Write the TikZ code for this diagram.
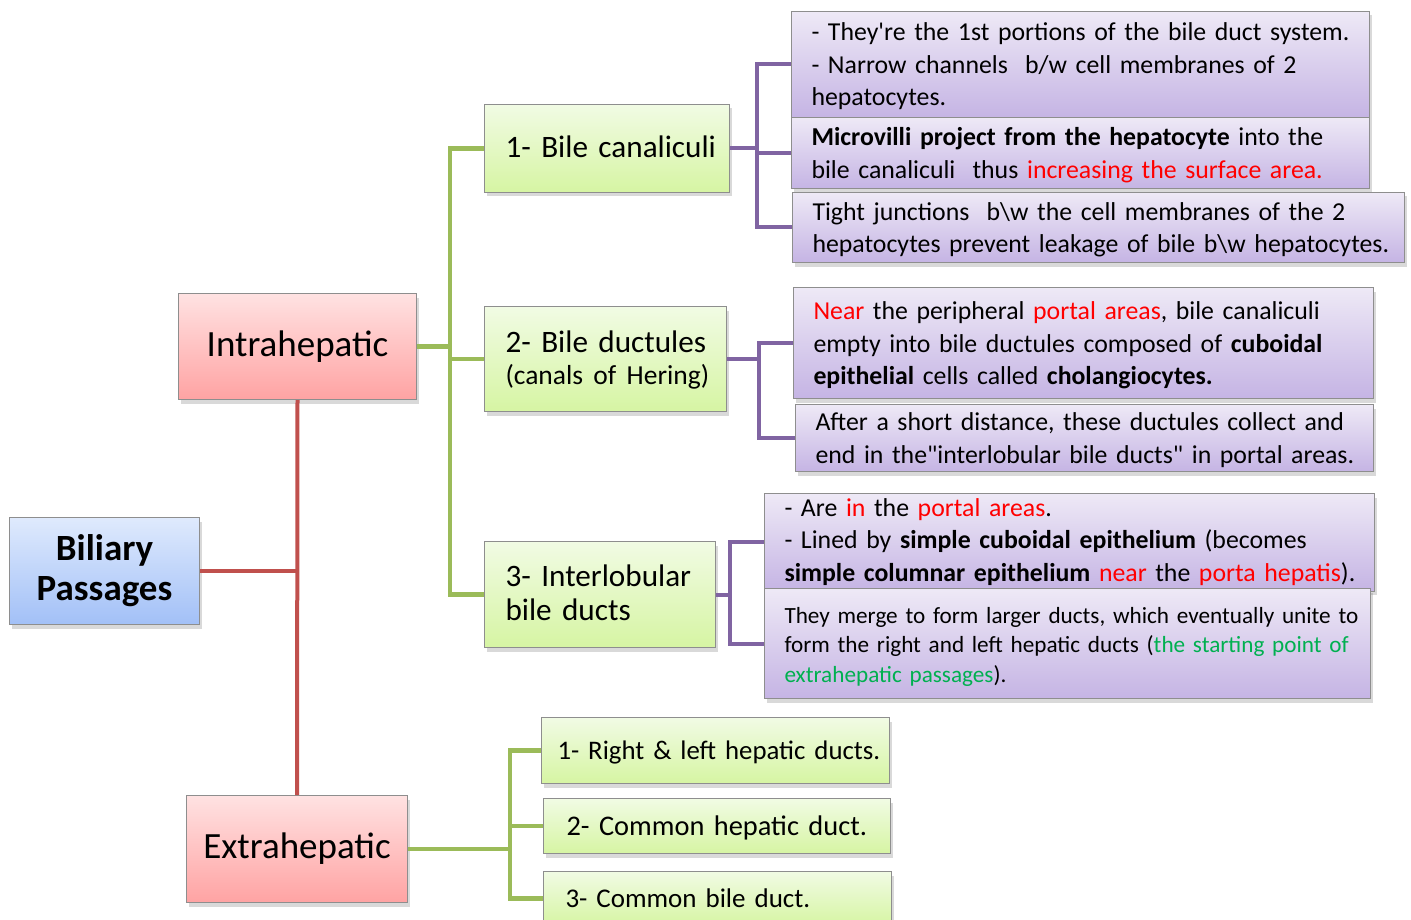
\documentclass[tikz,border=0pt]{standalone}
\usepackage{fontspec}
\setmainfont{Carlito}[Ligatures=TeXOff]
\usetikzlibrary{shadows}
\definecolor{bilRed}{HTML}{C0504D}
\definecolor{bilGreen}{HTML}{9BBB59}
\definecolor{bilPurple}{HTML}{8064A2}
\definecolor{bilBorder}{HTML}{8E8E8E}
\definecolor{bilBlueTop}{HTML}{DFEAFD}
\definecolor{bilBlueBot}{HTML}{A2C0F7}
\definecolor{bilPinkTop}{HTML}{FFE2E2}
\definecolor{bilPinkBot}{HTML}{FFA3A3}
\definecolor{bilLimeTop}{HTML}{F1FBE4}
\definecolor{bilLimeBot}{HTML}{D6F5A3}
\definecolor{bilLilacTop}{HTML}{EEE9F6}
\definecolor{bilLilacBot}{HTML}{C5B4E4}
\definecolor{txtRed}{HTML}{FF0000}
\definecolor{txtGreen}{HTML}{00B050}
\newcommand\redtxt[1]{\textcolor{txtRed}{#1}}
\newcommand\greentxt[1]{\textcolor{txtGreen}{#1}}
\newcommand\boxlines[2][-2.5pt]{\raisebox{#1}[\height][\depth]{\begin{tabular}{@{}l@{}}#2\end{tabular}}}

\begin{document}
\begin{tikzpicture}[x=1pt, y=-1pt,
    box/.style={draw=bilBorder, line width=1pt, anchor=north west, inner ysep=0pt,
      drop shadow={opacity=0.3, shadow xshift=2pt, shadow yshift=-4pt}},
    rootbox/.style={box, top color=bilBlueTop, bottom color=bilBlueBot, align=center,
      font=\fontsize{37}{40}\selectfont\bfseries},
    mainbox/.style={box, top color=bilPinkTop, bottom color=bilPinkBot, align=center,
      font=\fontsize{37}{44}\selectfont},
    subbox/.style={box, top color=bilLimeTop, bottom color=bilLimeBot, align=left,
      inner xsep=21pt, font=\fontsize{31.2}{34}\selectfont},
    extbox/.style={box, top color=bilLimeTop, bottom color=bilLimeBot, align=left},
    notebox/.style={box, top color=bilLilacTop, bottom color=bilLilacBot, align=left,
      inner xsep=20pt, font=\fontsize{25.8}{32.5}\selectfont},
    redlink/.style={draw=bilRed, line width=4pt},
    greenlink/.style={draw=bilGreen, line width=4.5pt},
    purplelink/.style={draw=bilPurple, line width=4pt}]
  \useasboundingbox (0,0) rectangle (1411,920);

  \node[rootbox, minimum width=190pt, minimum height=107pt] (biliary) at (9,517) {Biliary\\Passages};
  \node[mainbox, minimum width=238pt, minimum height=106pt] (intra) at (178,293) {Intrahepatic};
  \node[mainbox, minimum width=221pt, minimum height=107pt] (extra) at (186,795) {Extrahepatic};

  \node[subbox, text width=203pt, minimum height=88pt] (canal) at (484,104) {\boxlines{1- Bile canaliculi}};
  \node[subbox, text width=200pt, minimum height=105pt] (ductule) at (484,306)
    {\boxlines{2- Bile ductules\\[-2pt]{\fontsize{27.5}{33}\selectfont(canals of Hering)}}};
  \node[subbox, text width=189pt, minimum height=106pt] (interlob) at (484,541) {\boxlines{3- Interlobular\\bile ducts}};

  \node[extbox, inner xsep=16pt, text width=316pt, minimum height=66pt, font=\fontsize{26.8}{33}\selectfont]
    (ext1) at (541,717) {\boxlines{1- Right \& left hepatic ducts.}};
  \node[extbox, inner xsep=23pt, text width=301pt, minimum height=55pt, font=\fontsize{28.4}{33}\selectfont]
    (ext2) at (543,798) {\boxlines{2- Common hepatic duct.}};
  \node[extbox, inner xsep=22pt, text width=304pt, minimum height=54pt, font=\fontsize{27}{33}\selectfont]
    (ext3) at (543,871) {\boxlines{3- Common bile duct.}};

  \node[notebox, text width=538pt, minimum height=106pt] (note1) at (791,11)
    {\boxlines{- They're the 1st portions of the bile duct system.\\
     - Narrow channels\ \ b/w cell membranes of 2\\
     hepatocytes.}};
  \node[notebox, text width=538pt, minimum height=71pt] (note2) at (791,117)
    {\boxlines{\textbf{Microvilli project from the hepatocyte} into the\\
     bile canaliculi\ \ thus \redtxt{increasing the surface area.}}};
  \node[notebox, text width=572pt, minimum height=70pt] (note3) at (792,192)
    {\boxlines{Tight junctions\ \ b\textbackslash w the cell membranes of the 2\\
     hepatocytes prevent leakage of bile b\textbackslash w hepatocytes.}};
  \node[notebox, text width=540pt, minimum height=111pt] (note4) at (793,287)
    {\boxlines{\redtxt{Near} the peripheral \redtxt{portal areas}, bile canaliculi\\
     empty into bile ductules composed of \textbf{cuboidal}\\
     \textbf{epithelial} cells called \textbf{cholangiocytes.}}};
  \node[notebox, text width=538pt, minimum height=67pt] (note5) at (795,404)
    {\boxlines{After a short distance, these ductules collect and\\
     end in the"interlobular bile ducts" in portal areas.}};
  \node[notebox, text width=570pt, minimum height=90pt] (note6) at (764,493)
    {\boxlines[0pt]{- Are \redtxt{in} the \redtxt{portal areas}.\\
     - Lined by \textbf{simple cuboidal epithelium} (becomes\\
     \textbf{simple columnar epithelium} \redtxt{near} the \redtxt{porta hepatis}).}};
  \node[notebox, text width=566pt, minimum height=110pt, font=\fontsize{23.2}{29.5}\selectfont] (note7) at (764,588)
    {\boxlines[-3.5pt]{They merge to form larger ducts, which eventually unite to\\
     form the right and left hepatic ducts (\greentxt{the starting point of}\\
     \greentxt{extrahepatic passages}).}};

  \draw[redlink] (biliary.east) -- (biliary.east -| intra.south);
  \draw[redlink] (intra.south) -- (extra.north);

  \draw[greenlink] (intra.east) -- ++(33,0) |- (canal.west);
  \draw[greenlink] (intra.east) -- ++(33,0) |- (ductule.west);
  \draw[greenlink] (intra.east) -- ++(33,0) |- (interlob.west);

  \draw[greenlink] (extra.east) -- ++(102,0) |- (ext1.west);
  \draw[greenlink] (extra.east) -- ++(102,0) |- (ext2.west);
  \draw[greenlink] (extra.east) -- ++(102,0) |- (ext3.west);

  \draw[purplelink] (canal.east) -- ++(27,0) |- (note1.west);
  \draw[purplelink] (canal.east) -- ++(27,0) |- (note2.west);
  \draw[purplelink] (canal.east) -- ++(27,0) |- (note3.west);
  \draw[purplelink] (ductule.east) -- ++(32,0) |- (note4.west);
  \draw[purplelink] (ductule.east) -- ++(32,0) |- (note5.west);
  \draw[purplelink] (interlob.east) -- ++(14,0) |- (note6.west);
  \draw[purplelink] (interlob.east) -- ++(14,0) |- (note7.west);
\end{tikzpicture}
\end{document}
